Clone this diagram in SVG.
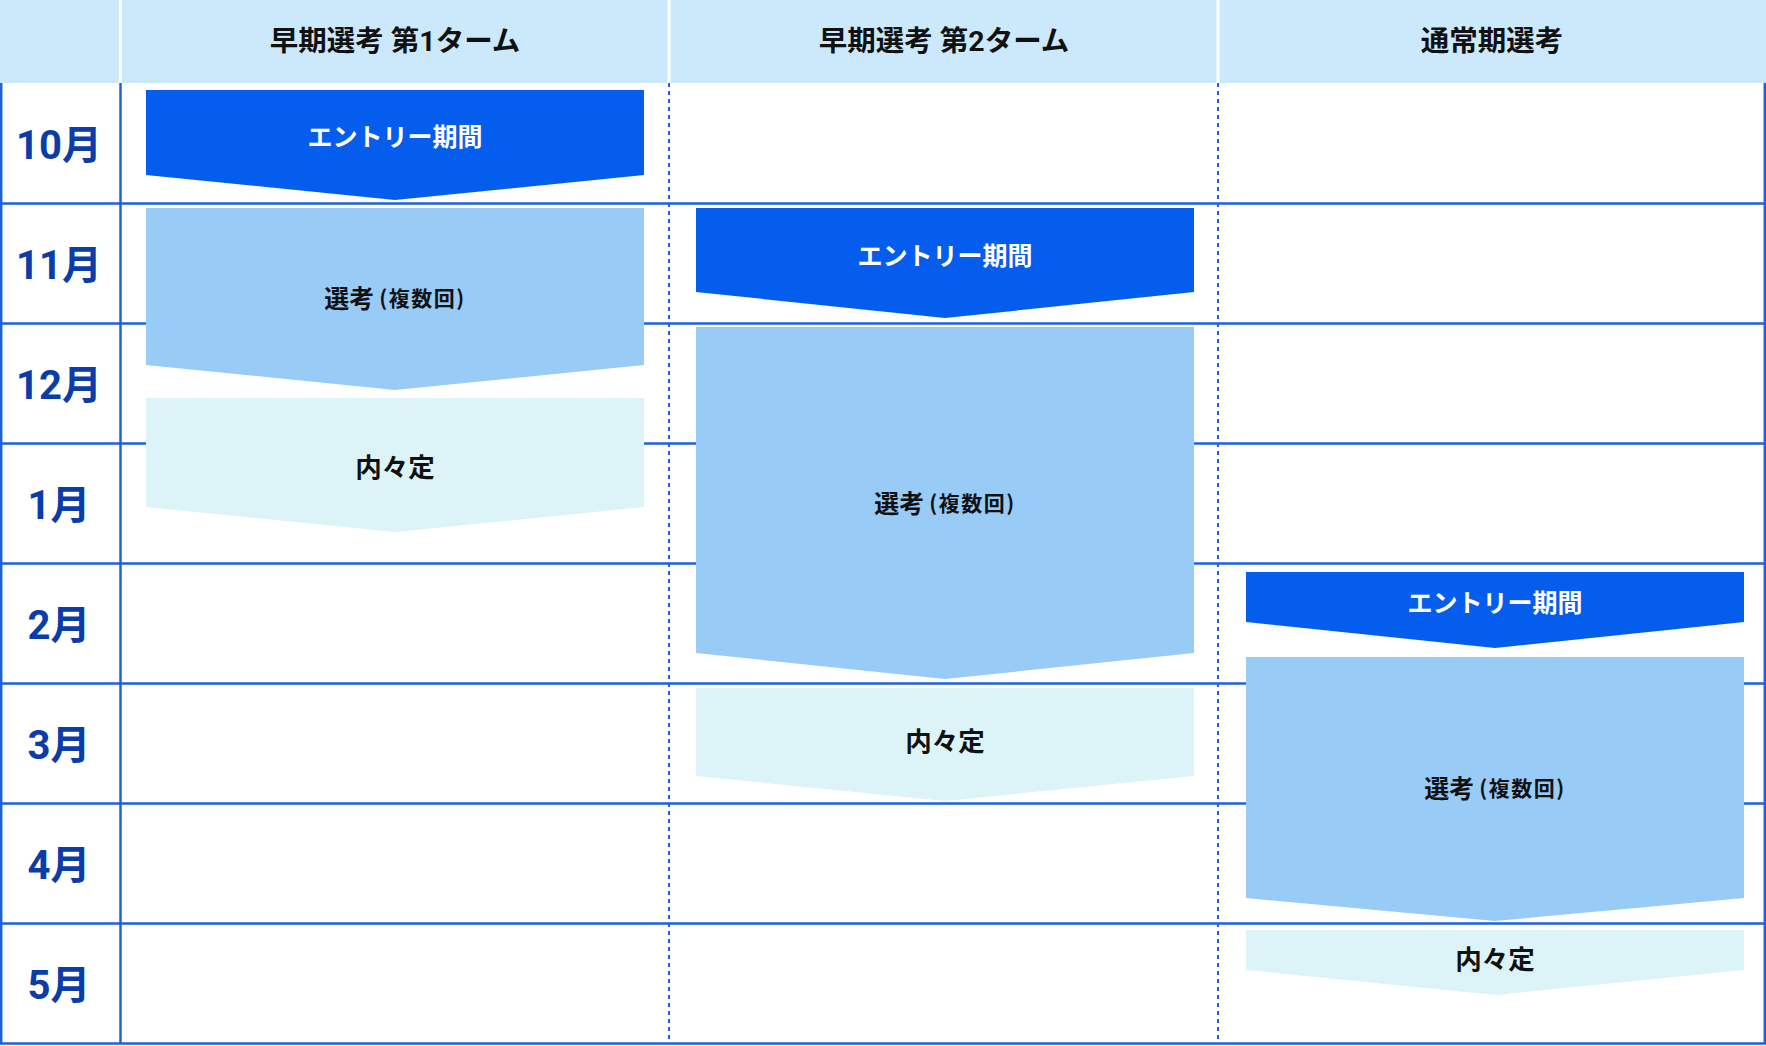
<svg xmlns="http://www.w3.org/2000/svg" width="1766" height="1046" viewBox="0 0 1766 1046">
<style>
.hdr{font-family:Roboto,"Noto Sans CJK JP","Noto Sans",sans-serif;font-weight:700;font-size:28.5px;fill:#111;text-anchor:middle;dominant-baseline:central}
.mon{font-family:Roboto,"Noto Sans CJK JP","Noto Sans",sans-serif;font-weight:700;font-size:40px;fill:#0b3da9;text-anchor:middle;dominant-baseline:central}
.lbl{font-family:"Noto Sans CJK JP","Noto Sans",sans-serif;font-weight:700;font-size:25px;text-anchor:middle;dominant-baseline:central}
.w{fill:#ffffff}
.k{fill:#111111}
.entry{fill:#055ded}
.sel{fill:#98cbf6}
.off{fill:#dcf4f8}
.sm{font-size:21px;letter-spacing:1.5px}
.big{font-size:26.5px}
.grid{stroke:#1e62da;stroke-width:2.5;fill:none}
.dash{stroke:#1e62da;stroke-width:2;stroke-dasharray:4 4;fill:none}
</style>
<rect x="0" y="0" width="1766" height="1046" fill="#ffffff"/>
<g id="header">
<rect x="0" y="0" width="1766" height="83" fill="#cce9fb"/>
<line x1="120.5" y1="0" x2="120.5" y2="83" stroke="#ffffff" stroke-width="3"/>
<line x1="669" y1="0" x2="669" y2="83" stroke="#ffffff" stroke-width="3"/>
<line x1="1218" y1="0" x2="1218" y2="83" stroke="#ffffff" stroke-width="3"/>
<text class="hdr" x="395" y="41">早期選考 第1ターム</text>
<text class="hdr" x="944" y="41">早期選考 第2ターム</text>
<text class="hdr" x="1492" y="41">通常期選考</text>
</g>
<g id="grid">
<line class="grid" x1="0" y1="203.5" x2="1766" y2="203.5"/>
<line class="grid" x1="0" y1="323.5" x2="1766" y2="323.5"/>
<line class="grid" x1="0" y1="443.5" x2="1766" y2="443.5"/>
<line class="grid" x1="0" y1="563.5" x2="1766" y2="563.5"/>
<line class="grid" x1="0" y1="683.5" x2="1766" y2="683.5"/>
<line class="grid" x1="0" y1="803.5" x2="1766" y2="803.5"/>
<line class="grid" x1="0" y1="923.5" x2="1766" y2="923.5"/>
<line class="grid" x1="0" y1="1043.5" x2="1766" y2="1043.5"/>
<line class="grid" x1="1.2" y1="83" x2="1.2" y2="1044"/>
<line class="grid" x1="120.5" y1="83" x2="120.5" y2="1044"/>
<line class="grid" x1="1764.8" y1="83" x2="1764.8" y2="1044"/>
<line class="dash" x1="669" y1="83" x2="669" y2="1044"/>
<line class="dash" x1="1218" y1="83" x2="1218" y2="1044"/>
</g>
<g id="months">
<text class="mon" x="59" y="145">10月</text>
<text class="mon" x="59" y="265">11月</text>
<text class="mon" x="59" y="385">12月</text>
<text class="mon" x="59" y="505">1月</text>
<text class="mon" x="59" y="625">2月</text>
<text class="mon" x="59" y="745">3月</text>
<text class="mon" x="59" y="865">4月</text>
<text class="mon" x="59" y="985">5月</text>
</g>
<g id="t1-entry">
<polygon class="entry" points="146,90 644,90 644,175 395,200 146,175"/>
<text class="lbl w" x="395" y="135">エントリー期間</text>
</g>
<g id="t1-select">
<polygon class="sel" points="146,208 644,208 644,365 395,390 146,365"/>
<text class="lbl k" x="395" y="297">選考<tspan class="sm" dx="5">(複数回)</tspan></text>
</g>
<g id="t1-offer">
<polygon class="off" points="146,398 644,398 644,507 395,532 146,507"/>
<text class="lbl k big" x="395" y="465">内々定</text>
</g>
<g id="t2-entry">
<polygon class="entry" points="696,208 1194,208 1194,292 945,318 696,292"/>
<text class="lbl w" x="945" y="254">エントリー期間</text>
</g>
<g id="t2-select">
<polygon class="sel" points="696,327 1194,327 1194,653 945,679 696,653"/>
<text class="lbl k" x="945" y="502">選考<tspan class="sm" dx="5">(複数回)</tspan></text>
</g>
<g id="t2-offer">
<polygon class="off" points="696,688 1194,688 1194,776 945,801 696,776"/>
<text class="lbl k big" x="945" y="739">内々定</text>
</g>
<g id="t3-entry">
<polygon class="entry" points="1246,572 1744,572 1744,622 1495,648 1246,622"/>
<text class="lbl w" x="1495" y="601">エントリー期間</text>
</g>
<g id="t3-select">
<polygon class="sel" points="1246,657 1744,657 1744,898 1495,921 1246,898"/>
<text class="lbl k" x="1495" y="787">選考<tspan class="sm" dx="5">(複数回)</tspan></text>
</g>
<g id="t3-offer">
<polygon class="off" points="1246,930 1744,930 1744,970 1495,995 1246,970"/>
<text class="lbl k big" x="1495" y="957">内々定</text>
</g>
</svg>
